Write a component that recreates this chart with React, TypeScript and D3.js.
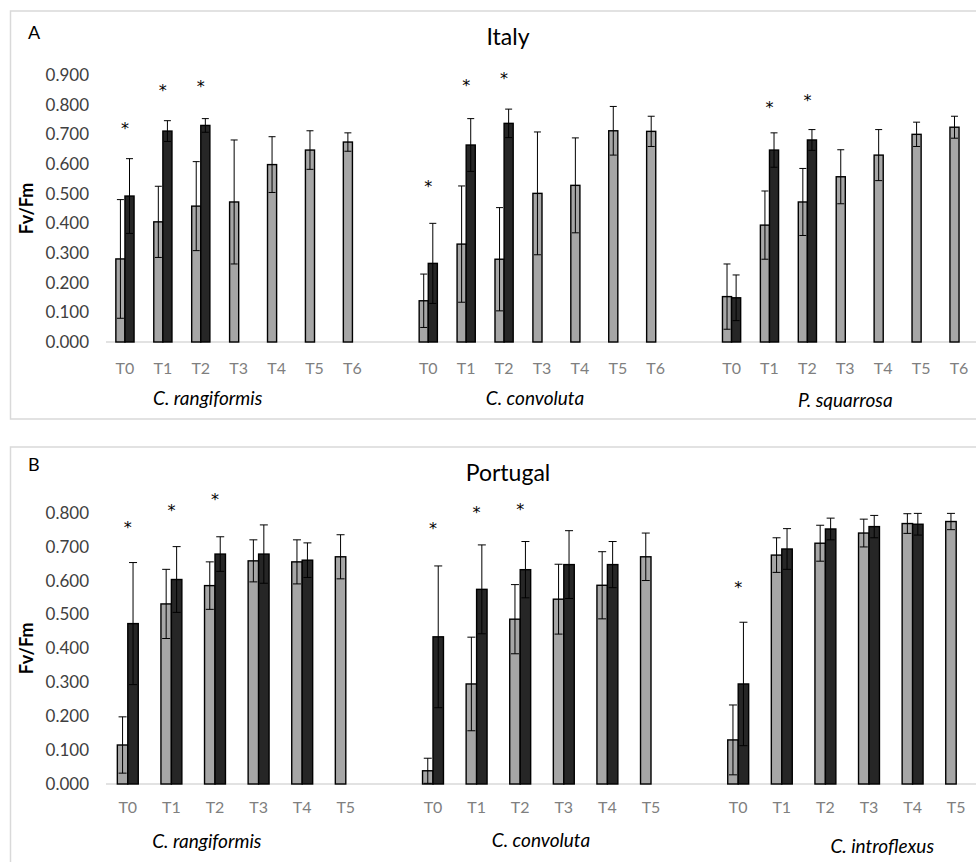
import * as d3 from "d3";
import React from "react";

// Italy (panel A)
const italySpecies = ["C. rangiformis", "C. convoluta", "P. squarrosa"];
const italyTimes = ["T0", "T1", "T2", "T3", "T4", "T5", "T6"];
const italyTicks = [0, 0.1, 0.2, 0.3, 0.4, 0.5, 0.6, 0.7, 0.8, 0.9];
const italyGray = [
  [0.28, 0.405, 0.458, 0.472, 0.598, 0.647, 0.674],
  [0.139, 0.33, 0.279, 0.501, 0.528, 0.712, 0.71],
  [0.153, 0.394, 0.472, 0.557, 0.63, 0.7, 0.724],
];
const italyGrayErr = [
  [0.2, 0.12, 0.15, 0.209, 0.094, 0.065, 0.031],
  [0.09, 0.196, 0.174, 0.207, 0.16, 0.082, 0.051],
  [0.11, 0.115, 0.113, 0.091, 0.086, 0.041, 0.037],
];
const italyDark = [
  [0.492, 0.711, 0.73],
  [0.265, 0.664, 0.737],
  [0.149, 0.647, 0.681],
];
const italyDarkErr = [
  [0.126, 0.035, 0.023],
  [0.135, 0.089, 0.048],
  [0.077, 0.058, 0.035],
];
const italyStars = [
  [0.731, 0.86, 0.873],
  [0.535, 0.877, 0.9],
  [null, 0.801, 0.827],
];

// Portugal (panel B)
const portugalSpecies = ["C. rangiformis", "C. convoluta", "C. introflexus"];
const portugalTimes = ["T0", "T1", "T2", "T3", "T4", "T5"];
const portugalTicks = [0, 0.1, 0.2, 0.3, 0.4, 0.5, 0.6, 0.7, 0.8];
const portugalGray = [
  [0.115, 0.531, 0.585, 0.658, 0.655, 0.67],
  [0.039, 0.295, 0.486, 0.545, 0.586, 0.67],
  [0.13, 0.675, 0.71, 0.74, 0.768, 0.774],
];
const portugalGrayErr = [
  [0.083, 0.102, 0.07, 0.062, 0.065, 0.065],
  [0.037, 0.138, 0.102, 0.103, 0.099, 0.07],
  [0.103, 0.051, 0.053, 0.041, 0.029, 0.024],
];
const portugalDark = [
  [0.473, 0.603, 0.678, 0.678, 0.66],
  [0.434, 0.574, 0.632, 0.647, 0.647],
  [0.295, 0.693, 0.752, 0.759, 0.766],
];
const portugalDarkErr = [
  [0.18, 0.097, 0.051, 0.086, 0.051],
  [0.209, 0.131, 0.083, 0.1, 0.068],
  [0.182, 0.06, 0.032, 0.033, 0.032],
];
const portugalStars = [
  [0.768, 0.816, 0.849],
  [0.764, 0.81, 0.821],
  [0.591],
];

const FONT = "Lato, 'Open Sans', sans-serif";
const GRAY = "#a6a6a6";
const DARK = "#262626";
const FRAME = "#d9d9d9";
const X0 = 106;
const X1 = 978;

type PanelProps = {
  letter: string;
  title: string;
  species: string[];
  times: string[];
  ticks: number[];
  gray: number[][];
  grayErr: number[][];
  dark: number[][];
  darkErr: number[][];
  stars: (number | null)[][];
  frameY: number;
  frameH: number;
  letterY: number;
  titleY: number;
  yBase: number;
  yTop: number;
  catY: number;
  speciesY: number[];
  speciesDx: number[];
  capW: number;
};

function Panel(p: PanelProps) {
  const keys: string[] = [];
  p.species.forEach((_, s) => {
    p.times.forEach((t) => keys.push(`${s}|${t}`));
    if (s < p.species.length - 1) keys.push(`gap${s}`);
  });
  const x = d3.scaleBand().domain(keys).range([X0, X1]).padding(0);
  const bw = x.bandwidth() * 0.24;
  const cx = (s: number, t: string) => (x(`${s}|${t}`) as number) + x.bandwidth() / 2;
  const y = d3
    .scaleLinear()
    .domain([0, p.ticks[p.ticks.length - 1]])
    .range([p.yBase, p.yTop]);
  const fmt = d3.format(".3f");

  const errBar = (key: string, xc: number, v: number, e: number) => {
    const lo = y(Math.max(0, v - e));
    const hi = y(v + e);
    return (
      <g key={key} stroke="#000" strokeWidth={1}>
        <line x1={xc} x2={xc} y1={lo} y2={hi} />
        <line x1={xc - p.capW} x2={xc + p.capW} y1={hi} y2={hi} />
        <line x1={xc - p.capW} x2={xc + p.capW} y1={lo} y2={lo} />
      </g>
    );
  };

  return (
    <g>
      <rect
        x={10.5}
        y={p.frameY}
        width={1000}
        height={p.frameH}
        fill="#fff"
        stroke={FRAME}
        strokeWidth={1.5}
      />
      <text x={28} y={p.letterY} fontSize={18} fontFamily={FONT} fill="#000">
        {p.letter}
      </text>
      <text x={508} y={p.titleY} fontSize={23} fontFamily={FONT} textAnchor="middle" fill="#000">
        {p.title}
      </text>
      <text
        transform={`translate(33,${(p.yBase + p.yTop) / 2}) rotate(-90)`}
        textAnchor="middle"
        fontSize={18}
        fontWeight="bold"
        fontFamily={FONT}
        fill="#000"
      >
        Fv/Fm
      </text>
      {p.ticks.map((t) => (
        <text
          key={t}
          x={89}
          y={y(t) + 6}
          textAnchor="end"
          fontSize={17}
          fontFamily={FONT}
          fill="#404040"
        >
          {fmt(t)}
        </text>
      ))}
      <line x1={X0} x2={X1} y1={p.yBase} y2={p.yBase} stroke={FRAME} strokeWidth={1.5} />
      {p.species.map((sp, s) => (
        <g key={sp}>
          {p.times.map((t, i) => {
            const c = cx(s, t);
            const g = p.gray[s][i];
            const d = p.dark[s][i];
            return (
              <g key={t}>
                <rect
                  x={c - bw}
                  y={y(g)}
                  width={bw}
                  height={p.yBase - y(g)}
                  fill={GRAY}
                  stroke="#000"
                  strokeWidth={1.4}
                />
                {d !== undefined && (
                  <rect
                    x={c}
                    y={y(d)}
                    width={bw}
                    height={p.yBase - y(d)}
                    fill={DARK}
                    stroke="#000"
                    strokeWidth={1.4}
                  />
                )}
                {errBar("g", c - bw / 2, g, p.grayErr[s][i])}
                {d !== undefined && errBar("d", c + bw / 2, d, p.darkErr[s][i])}
                <text
                  x={c}
                  y={p.catY}
                  textAnchor="middle"
                  fontSize={16}
                  fontFamily={FONT}
                  fill="#7f7f7f"
                >
                  {t}
                </text>
                {p.stars[s][i] != null && (
                  <text
                    x={c}
                    y={y(p.stars[s][i] as number) + 9}
                    textAnchor="middle"
                    fontSize={16}
                    fontFamily="'DejaVu Sans', sans-serif"
                    fill="#000"
                  >
                    *
                  </text>
                )}
              </g>
            );
          })}
          <text
            x={(cx(s, p.times[0]) + cx(s, p.times[p.times.length - 1])) / 2 + p.speciesDx[s]}
            y={p.speciesY[s]}
            textAnchor="middle"
            fontSize={19}
            fontStyle="italic"
            fontFamily={FONT}
            fill="#000"
          >
            {sp}
          </text>
        </g>
      ))}
    </g>
  );
}

export default function App() {
  return (
    <svg
      width={976}
      height={862}
      style={{ position: "absolute", left: 0, top: 0, background: "#fff" }}
    >
      <rect width={976} height={862} fill="#fff" />
      <Panel
        letter="A"
        title="Italy"
        species={italySpecies}
        times={italyTimes}
        ticks={italyTicks}
        gray={italyGray}
        grayErr={italyGrayErr}
        dark={italyDark}
        darkErr={italyDarkErr}
        stars={italyStars}
        frameY={11}
        frameH={408}
        letterY={39}
        titleY={45}
        yBase={342}
        yTop={75}
        catY={374}
        speciesY={[405, 405, 407]}
        speciesDx={[-31, -7, 0]}
        capW={3.5}
      />
      <Panel
        letter="B"
        title="Portugal"
        species={portugalSpecies}
        times={portugalTimes}
        ticks={portugalTicks}
        gray={portugalGray}
        grayErr={portugalGrayErr}
        dark={portugalDark}
        darkErr={portugalDarkErr}
        stars={portugalStars}
        frameY={447}
        frameH={430}
        letterY={471}
        titleY={481}
        yBase={784}
        yTop={512.7}
        catY={813}
        speciesY={[848, 847, 853]}
        speciesDx={[-30, -1, 35]}
        capW={4}
      />
    </svg>
  );
}
